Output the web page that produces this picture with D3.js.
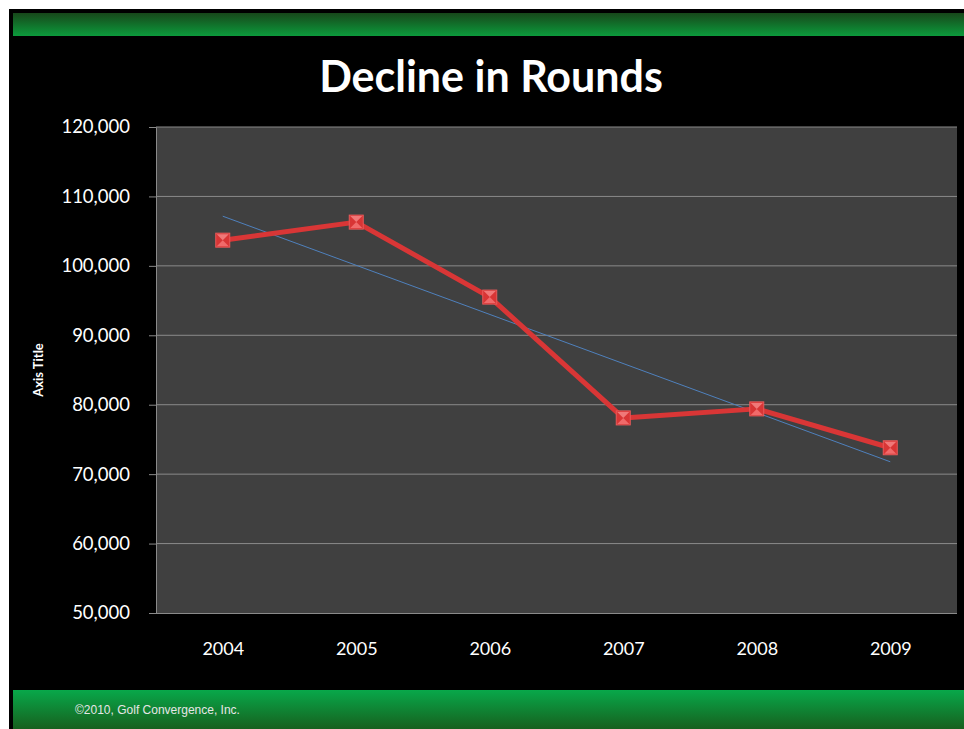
<!DOCTYPE html>
<html>
<head>
<meta charset="utf-8">
<script src="https://cdn.jsdelivr.net/npm/d3@7"></script>
<style>
  html, body { margin: 0; padding: 0; background: #fff; }
  svg { display: block; }
</style>
</head>
<body>
<svg id="chart" width="964" height="729"></svg>
<script>
// Golf rounds played per year
const years = ["2004", "2005", "2006", "2007", "2008", "2009"];
const rounds = [103700, 106300, 95500, 78100, 79400, 73800];
const yTicks = [50000, 60000, 70000, 80000, 90000, 100000, 110000, 120000];

(function () {
const svg = d3.select("#chart");
const W = 964, H = 729;
const defs = svg.append("defs");

const topGrad = defs.append("linearGradient").attr("id", "topBar")
  .attr("x1", 0).attr("y1", 0).attr("x2", 0).attr("y2", 1);
topGrad.append("stop").attr("offset", "0%").attr("stop-color", "#17481a");
topGrad.append("stop").attr("offset", "100%").attr("stop-color", "#0c9a3c");

const botGrad = defs.append("linearGradient").attr("id", "botBar")
  .attr("x1", 0).attr("y1", 0).attr("x2", 0).attr("y2", 1);
botGrad.append("stop").attr("offset", "0%").attr("stop-color", "#08a84a");
botGrad.append("stop").attr("offset", "100%").attr("stop-color", "#17601e");

// slide background and header/footer bands
svg.append("rect").attr("x", 9).attr("y", 9).attr("width", W - 9).attr("height", H - 9).attr("fill", "#000");
svg.append("rect").attr("x", 13).attr("y", 13).attr("width", W - 13).attr("height", 23).attr("fill", "url(#topBar)");
svg.append("rect").attr("x", 13).attr("y", 690).attr("width", W - 13).attr("height", H - 690).attr("fill", "url(#botBar)");

svg.append("text").attr("x", 75).attr("y", 714)
  .attr("font-family", "Liberation Sans, Arial, sans-serif").attr("font-size", 12)
  .attr("fill", "#e6e6e6").text("\u00A92010, Golf Convergence, Inc.");

// title
svg.append("text").attr("x", 491).attr("y", 92).attr("text-anchor", "middle")
  .attr("font-family", "Lato, 'Open Sans', sans-serif").attr("font-weight", 700)
  .attr("font-size", 43).attr("fill", "#fff").text("Decline in Rounds");

// plot area
const pLeft = 156, pRight = 957, pTop = 127, pBottom = 613;
const x = d3.scalePoint().domain(years).range([pLeft, pRight]).padding(0.5);
const y = d3.scaleLinear().domain([50000, 120000]).range([pBottom, pTop]);

svg.append("rect").attr("x", pLeft).attr("y", pTop).attr("width", pRight - pLeft).attr("height", pBottom - pTop)
  .attr("fill", "#404040");

// horizontal gridlines
svg.append("g").selectAll("line").data(yTicks.filter(t => t > 50000)).join("line")
  .attr("x1", pLeft).attr("x2", pRight)
  .attr("y1", d => y(d)).attr("y2", d => y(d))
  .attr("stroke", "#8a8a8a").attr("stroke-width", 1);

// y axis
const yAxis = svg.append("g").attr("transform", `translate(${pLeft},0)`)
  .call(d3.axisLeft(y).tickValues(yTicks).tickFormat(d3.format(",")).tickSize(7).tickPadding(19));
yAxis.select(".domain").attr("stroke", "#8a8a8a");
yAxis.selectAll(".tick line").attr("stroke", "#8a8a8a");
yAxis.selectAll("text").attr("fill", "#fff").attr("font-size", 18.5)
  .attr("font-family", "Lato, 'Open Sans', sans-serif");

// x axis
const xAxis = svg.append("g").attr("transform", `translate(0,${pBottom})`)
  .call(d3.axisBottom(x).tickSize(0).tickPadding(29));
xAxis.select(".domain").attr("stroke", "#8a8a8a").attr("d", `M${pLeft},0.5H${pRight}`);
xAxis.selectAll("text").attr("fill", "#fff").attr("font-size", 18)
  .attr("font-family", "Lato, 'Open Sans', sans-serif");

// axis title
svg.append("text").attr("transform", "translate(43,370) rotate(-90)")
  .attr("text-anchor", "middle").attr("font-family", "Lato, 'Open Sans', sans-serif")
  .attr("font-weight", 700).attr("font-size", 13).attr("fill", "#fff").text("Axis Title");

// linear trendline (least squares over the category index)
const n = rounds.length;
const xs = d3.range(n);
const mx = d3.mean(xs), my = d3.mean(rounds);
const slope = d3.sum(xs, i => (i - mx) * (rounds[i] - my)) / d3.sum(xs, i => (i - mx) ** 2);
const intercept = my - slope * mx;
svg.append("line")
  .attr("x1", x(years[0])).attr("y1", y(intercept))
  .attr("x2", x(years[n - 1])).attr("y2", y(intercept + slope * (n - 1)))
  .attr("stroke", "#4f81bd").attr("stroke-width", 1);

// data line
const line = d3.line().x((d, i) => x(years[i])).y(d => y(d));
svg.append("path").datum(rounds).attr("d", line)
  .attr("fill", "none").attr("stroke", "#d93636").attr("stroke-width", 5)
  .attr("stroke-linejoin", "round");

// square markers with hourglass shading
const s = 7;
const m = svg.append("g").selectAll("g").data(rounds).join("g")
  .attr("transform", (d, i) => `translate(${x(years[i])},${y(d)})`);
m.append("rect").attr("x", -s).attr("y", -s).attr("width", 2 * s).attr("height", 2 * s)
  .attr("fill", "#d83535").attr("stroke", "#e85a5a").attr("stroke-width", 1);
m.append("path").attr("d", `M${-s + 1},${-s + 1}L${s - 1},${-s + 1}L0,0Z`).attr("fill", "#f07878");
m.append("path").attr("d", `M${-s + 1},${s - 1}L${s - 1},${s - 1}L0,0Z`).attr("fill", "#f06a6a");
})();
</script>
</body>
</html>
